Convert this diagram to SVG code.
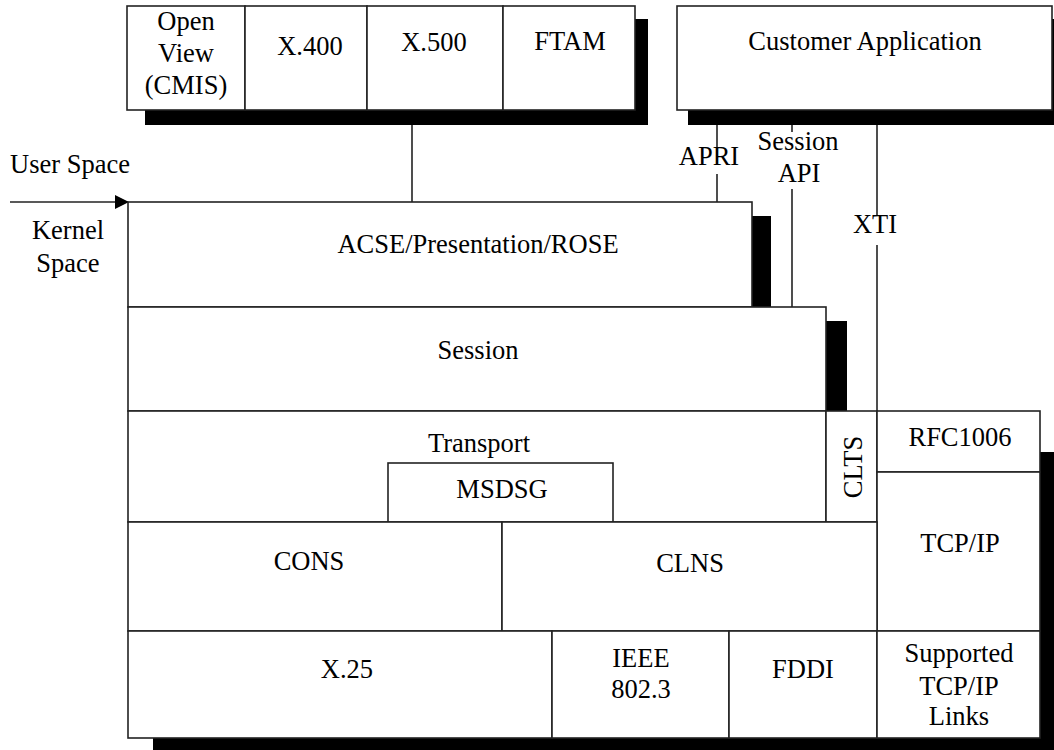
<svg xmlns="http://www.w3.org/2000/svg" width="1054" height="750" viewBox="0 0 1054 750">
<style>
text{font-family:"Liberation Serif","Times New Roman",serif;font-size:26.5px;fill:#000;text-anchor:middle}
.box{fill:#fff;stroke:#222;stroke-width:1.6}
.sh{fill:#000}
.ln{stroke:#222;stroke-width:1.6;fill:none}
</style>
<defs>
<marker id="arr" markerWidth="14" markerHeight="14" refX="13" refY="7" orient="auto" markerUnits="userSpaceOnUse">
<polygon points="0,0 14,7 0,14" fill="#000"/>
</marker>
</defs>
<rect width="1054" height="750" fill="#fff"/>

<!-- shadows -->
<rect class="sh" x="145" y="110" width="503" height="15"/>
<rect class="sh" x="635" y="19" width="13" height="106"/>
<rect class="sh" x="688" y="110" width="370" height="15"/>
<rect class="sh" x="1052" y="19" width="6" height="106"/>
<rect class="sh" x="752" y="216" width="19" height="91"/>
<rect class="sh" x="826" y="321" width="21" height="90"/>
<rect class="sh" x="1040" y="452" width="20" height="306"/>
<rect class="sh" x="153" y="738" width="907" height="20"/>

<g id="connectors">
<line class="ln" x1="10" y1="202" x2="128" y2="202" marker-end="url(#arr)"/>
<line class="ln" x1="412" y1="125" x2="412" y2="202"/>
<line class="ln" x1="717" y1="125" x2="717" y2="147"/>
<line class="ln" x1="717" y1="174" x2="717" y2="202"/>
<line class="ln" x1="792" y1="125" x2="792" y2="132"/>
<line class="ln" x1="792" y1="189" x2="792" y2="307"/>
<line class="ln" x1="877" y1="125" x2="877" y2="216"/>
<line class="ln" x1="877" y1="245" x2="877" y2="411"/>
<text x="709" y="165">APRI</text>
<text x="798" y="150">Session</text>
<text x="799" y="182">API</text>
<text x="875" y="233">XTI</text>
</g>

<g id="space-labels">
<text x="70" y="173">User Space</text>
<text x="68" y="239">Kernel</text>
<text x="68" y="272">Space</text>
</g>

<g id="openview"><rect class="box" x="127" y="6" width="118" height="104"/>
<text x="186" y="30">Open</text><text x="186" y="62">View</text><text x="186" y="94">(CMIS)</text></g>
<g id="x400"><rect class="box" x="245" y="6" width="122" height="104"/><text x="310" y="55">X.400</text></g>
<g id="x500"><rect class="box" x="367" y="6" width="136" height="104"/><text x="434" y="51">X.500</text></g>
<g id="ftam"><rect class="box" x="503" y="6" width="132" height="104"/><text x="570" y="50">FTAM</text></g>
<g id="customer"><rect class="box" x="677" y="6" width="375" height="104"/><text x="865" y="50">Customer Application</text></g>

<g id="acse"><rect class="box" x="128" y="202" width="624" height="105"/><text x="478" y="253">ACSE/Presentation/ROSE</text></g>
<g id="session"><rect class="box" x="128" y="307" width="698" height="104"/><text x="478" y="359">Session</text></g>
<g id="transport"><rect class="box" x="128" y="411" width="698" height="111"/><text x="479" y="452">Transport</text></g>
<g id="msdsg"><rect class="box" x="388" y="463" width="225" height="59"/><text x="502" y="498">MSDSG</text></g>
<g id="clts"><rect class="box" x="826" y="411" width="51" height="111"/><text transform="translate(862,467) rotate(-90)">CLTS</text></g>
<g id="rfc1006"><rect class="box" x="877" y="411" width="163" height="61"/><text x="960" y="446">RFC1006</text></g>
<g id="tcpip"><rect class="box" x="877" y="472" width="163" height="159"/><text x="960" y="552">TCP/IP</text></g>
<g id="cons"><rect class="box" x="128" y="522" width="374" height="109"/><text x="309" y="570">CONS</text></g>
<g id="clns"><rect class="box" x="502" y="522" width="375" height="109"/><text x="690" y="572">CLNS</text></g>
<g id="x25"><rect class="box" x="128" y="631" width="424" height="107"/><text x="347" y="678">X.25</text></g>
<g id="ieee"><rect class="box" x="552" y="631" width="177" height="107"/><text x="641" y="667">IEEE</text><text x="641" y="698">802.3</text></g>
<g id="fddi"><rect class="box" x="729" y="631" width="148" height="107"/><text x="803" y="678">FDDI</text></g>
<g id="links"><rect class="box" x="877" y="631" width="163" height="107"/><text x="959" y="662">Supported</text><text x="959" y="695">TCP/IP</text><text x="959" y="725">Links</text></g>
</svg>
